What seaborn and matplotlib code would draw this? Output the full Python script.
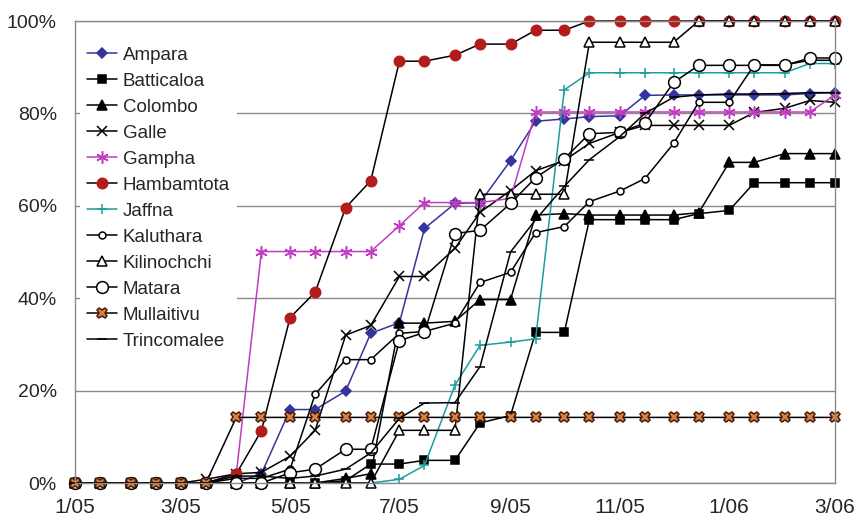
import matplotlib
matplotlib.use("Agg")
import matplotlib.pyplot as plt
import seaborn as sns
import pandas as pd

# survey dates (1st and 15th of each month)
dates = ["2005-01-01", "2005-01-15", "2005-02-01", "2005-02-15", "2005-03-01", "2005-03-15",
         "2005-04-01", "2005-04-15", "2005-05-01", "2005-05-15", "2005-06-01", "2005-06-15",
         "2005-07-01", "2005-07-15", "2005-08-01", "2005-08-15", "2005-09-01", "2005-09-15",
         "2005-10-01", "2005-10-15", "2005-11-01", "2005-11-15", "2005-12-01", "2005-12-15",
         "2006-01-01", "2006-01-15", "2006-02-01", "2006-02-15", "2006-03-01"]

tick_dates = ["2005-01-01", "2005-03-01", "2005-05-01", "2005-07-01",
              "2005-09-01", "2005-11-01", "2006-01-01", "2006-03-01"]
tick_labels = ["1/05", "3/05", "5/05", "7/05", "9/05", "11/05", "1/06", "3/06"]
y_ticks = [0, 20, 40, 60, 80, 100]
y_labels = ["0%", "20%", "40%", "60%", "80%", "100%"]

districts = ["Ampara", "Batticaloa", "Colombo", "Galle", "Gampha", "Hambamtota",
             "Jaffna", "Kaluthara", "Kilinochchi", "Matara", "Mullaitivu", "Trincomalee"]

ampara = [0, 0, 0, 0, 0, 0, 0, 2, 15.9, 15.9, 19.9, 32.4, 34.7, 55.1, 60.5, 60.7, 69.8,
          78.3, 78.8, 79.3, 79.5, 83.9, 84, 84, 84, 84, 84, 84.3, 84.5]
batticaloa = [0, 0, 0, 0, 0, 0, 0, 0, 0, 0, 0.5, 4.1, 4.1, 4.9, 4.9, 13, 14.6, 32.6, 32.6,
              57, 57, 57, 57, 58.3, 59, 65, 65, 65, 65]
colombo = [0, 0, 0, 0, 0, 0, 0, 0, 0, 0, 1, 2, 34.6, 34.6, 35, 39.7, 39.7, 58, 58.3, 58,
           58, 58, 58, 58.5, 69.4, 69.4, 71.3, 71.3, 71.3]
galle = [0, 0, 0, 0, 0, 0.8, 2, 2.3, 5.8, 11.4, 32, 34.1, 44.7, 44.7, 50.8, 58.6, 63.3,
         67.6, 69.8, 73.5, 75.9, 77.4, 77.4, 77.4, 77.4, 80.2, 81.1, 82.8, 82.4]
gampha = [0, 0, 0, 0, 0, 0, 2, 50.1, 50.1, 50.1, 50.1, 50.1, 55.7, 60.7, 60.7, 60.7, 61.6,
          80.3, 80.3, 80.3, 80.3, 80.3, 80.3, 80.3, 80.3, 80.3, 80.3, 80.3, 84]
hambamtota = [0, 0, 0, 0, 0, 0, 2, 11.3, 35.8, 41.3, 59.6, 65.4, 91.3, 91.3, 92.6, 95, 95,
              98, 98, 100, 100, 100, 100, 100, 100, 100, 100, 100, 100]
jaffna = [0, 0, 0, 0, 0, 0, 0, 0, 0, 0, 0, 0, 0.8, 3.8, 21.2, 29.8, 30.5, 31.2, 85.1,
          88.8, 88.8, 88.8, 88.8, 88.8, 88.8, 88.8, 88.8, 90.8, 90.8]
kaluthara = [0, 0, 0, 0, 0, 0, 1, 1, 3, 19.2, 26.7, 26.7, 32.4, 32.8, 34.6, 43.4, 45.6,
             54.2, 55.5, 60.9, 63.2, 65.9, 73.5, 82.4, 82.4, 90.5, 90.5, 91.5, 91.5]
kilinochchi = [0, 0, 0, 0, 0, 0, 0, 0, 0, 0, 0, 0, 11.4, 11.4, 11.4, 62.5, 62.5, 62.5, 62.5,
               95.4, 95.4, 95.4, 95.4, 100, 100, 100, 100, 100, 100]
matara = [0, 0, 0, 0, 0, 0, 0, 0, 2.2, 3, 7.3, 7.3, 30.8, 32.6, 54, 54.7, 60.5, 66.1, 70.2,
          75.6, 75.9, 77.9, 86.7, 90.4, 90.4, 90.4, 90.4, 92, 92]
mullaitivu = [0, 0, 0, 0, 0, 0, 14.2, 14.2, 14.2, 14.2, 14.2, 14.2, 14.2, 14.2, 14.2, 14.2,
              14.2, 14.2, 14.2, 14.2, 14.2, 14.2, 14.2, 14.2, 14.2, 14.2, 14.2, 14.2, 14.2]
trincomalee = [0, 0, 0, 0, 0, 0, 1.5, 1.5, 1, 1.5, 3, 6.5, 14, 17.3, 17.4, 25.2, 50, 57,
               64.2, 70, 75, 80, 83.5, 84, 84.2, 84.2, 84.3, 84.5, 84.5]

series = [ampara, batticaloa, colombo, galle, gampha, hambamtota,
          jaffna, kaluthara, kilinochchi, matara, mullaitivu, trincomalee]

# line / marker style per district
styles = {
    "Ampara":      dict(color="#34349a", marker="D", ms=5.5, mfc="#34349a", mec="#34349a"),
    "Batticaloa":  dict(color="black", marker="s", ms=6, mfc="black", mec="black"),
    "Colombo":     dict(color="black", marker="^", ms=6.5, mfc="black", mec="black"),
    "Galle":       dict(color="black", marker="x", ms=7.5, mfc="black", mec="black"),
    "Gampha":      dict(color="#c03cc0", marker=(6, 2, 0), ms=9, mfc="#c03cc0", mec="#c03cc0"),
    "Hambamtota":  dict(color="black", marker="o", ms=7.5, mfc="#b41c1c", mec="#b41c1c"),
    "Jaffna":      dict(color="#1e9c9c", marker="+", ms=7, mfc="#1e9c9c", mec="#1e9c9c"),
    "Kaluthara":   dict(color="black", marker="o", ms=5, mfc="white", mec="black"),
    "Kilinochchi": dict(color="black", marker="^", ms=7, mfc="white", mec="black"),
    "Matara":      dict(color="black", marker="o", ms=8.5, mfc="white", mec="black"),
    "Mullaitivu":  dict(color="black", marker="X", ms=7.5, mfc="#d8843c", mec="#4a1c08"),
    "Trincomalee": dict(color="black", marker="_", ms=7, mfc="black", mec="black"),
}

sns.set_style("white")
plt.rcParams["font.family"] = ["Liberation Sans", "DejaVu Sans"]

fig, ax = plt.subplots(figsize=(8.59, 5.25), dpi=100)
fig.subplots_adjust(left=0.0873, right=0.972, top=0.96, bottom=0.08)

x = pd.to_datetime(dates)
for name, vals in zip(districts, series):
    st = styles[name]
    sns.lineplot(x=x, y=vals, ax=ax, label=name, color=st["color"], lw=1.1,
                 marker=st["marker"], markersize=st["ms"], markerfacecolor=st["mfc"],
                 markeredgecolor=st["mec"], markeredgewidth=1.1, clip_on=False)

ax.set_xlim(x[0], x[-1])
ax.set_ylim(0, 100)
ax.set_xticks(pd.to_datetime(tick_dates))
ax.set_xticklabels(tick_labels, fontsize=15)
ax.set_yticks(y_ticks)
ax.set_yticklabels(y_labels, fontsize=14)
ax.set_xlabel("")
ax.set_ylabel("")

ax.yaxis.grid(True, color="#8a8a8a", lw=1)
ax.set_axisbelow(True)
for sp in ax.spines.values():
    sp.set_color("#8a8a8a")
    sp.set_linewidth(1)
ax.tick_params(axis="x", direction="in", length=5, color="#8a8a8a", pad=11)
ax.tick_params(axis="y", direction="out", length=4, color="#8a8a8a", pad=9)

leg = ax.legend(loc="upper left", bbox_to_anchor=(0.006, 0.961), borderaxespad=0,
                fontsize=13.5, labelspacing=0.475, handlelength=1.6, handletextpad=0.3,
                frameon=True, facecolor="white", edgecolor="none", framealpha=1,
                fancybox=False)

fig.savefig("out.png", dpi=100)
